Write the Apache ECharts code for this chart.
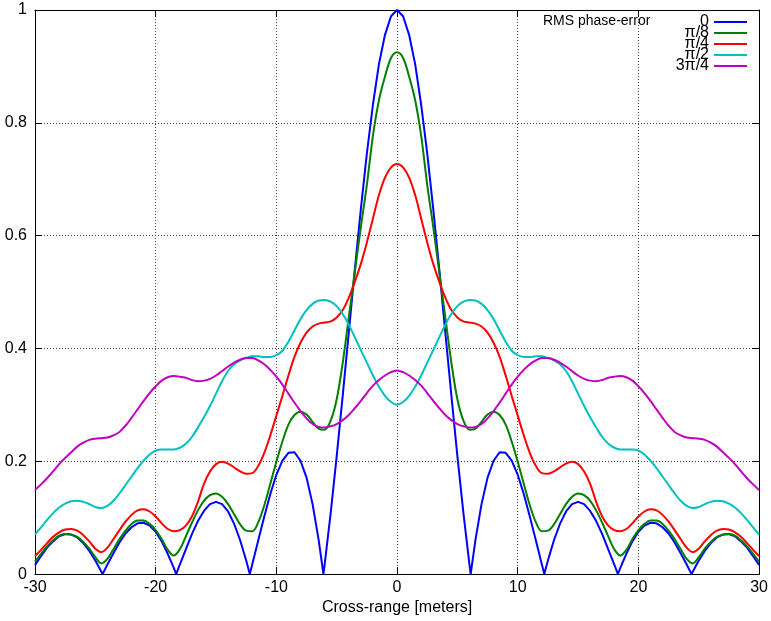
<!DOCTYPE html>
<html>
<head>
<meta charset="utf-8">
<script src="https://cdn.jsdelivr.net/npm/echarts@6/dist/echarts.min.js"></script>
<style>html,body{margin:0;padding:0;background:#fff}#c{width:771px;height:621px}</style>
</head>
<body>
<div id="c"></div>
<script>
// Sample positions (meters)
const X = [-30,-29.5,-29,-28.5,-28,-27.5,-27,-26.5,-26,-25.5,-25,-24.5,-24,-23.5,-23,-22.5,-22,-21.5,-21,-20.5,-20,-19.5,-19,-18.5,-18,-17.5,-17,-16.5,-16,-15.5,-15,-14.5,-14,-13.5,-13,-12.5,-12,-11.5,-11,-10.5,-10,-9.5,-9,-8.5,-8,-7.5,-7,-6.5,-6,-5.5,-5,-4.5,-4,-3.5,-3,-2.5,-2,-1.5,-1,-0.5,0,0.5,1,1.5,2,2.5,3,3.5,4,4.5,5,5.5,6,6.5,7,7.5,8,8.5,9,9.5,10,10.5,11,11.5,12,12.5,13,13.5,14,14.5,15,15.5,16,16.5,17,17.5,18,18.5,19,19.5,20,20.5,21,21.5,22,22.5,23,23.5,24,24.5,25,25.5,26,26.5,27,27.5,28,28.5,29,29.5,30];

// RMS phase-error 0 (has its own sample positions, including the nulls)
const X0 = [-30,-29.5,-29,-28.5,-28,-27.5,-27,-26.5,-26,-25.5,-25,-24.5,-24.4,-24,-23.5,-23,-22.5,-22,-21.5,-21,-20.5,-20,-19.5,-19,-18.5,-18.3,-18,-17.5,-17,-16.5,-16,-15.5,-15,-14.5,-14,-13.5,-13,-12.5,-12.2,-12,-11.5,-11,-10.5,-10,-9.5,-9,-8.5,-8,-7.5,-7,-6.5,-6.1,-6,-5.5,-5,-4.5,-4,-3.5,-3,-2.5,-2,-1.5,-1,-0.5,
0,0.5,1,1.5,2,2.5,3,3.5,4,4.5,5,5.5,6,6.1,6.5,7,7.5,8,8.5,9,9.5,10,10.5,11,11.5,12,12.2,12.5,13,13.5,14,14.5,15,15.5,16,16.5,17,17.5,18,18.3,18.5,19,19.5,20,20.5,21,21.5,22,22.5,23,23.5,24,24.4,24.5,25,25.5,26,26.5,27,27.5,28,28.5,29,29.5,30];
const Y0 = [0.016,0.032,0.047,0.058,0.067,0.071,0.070,0.065,0.055,0.041,0.024,0.004,0,0.017,0.037,0.056,0.072,0.083,0.090,0.091,0.086,0.075,0.058,0.036,0.011,0,0.017,0.044,0.071,0.094,0.112,0.124,0.128,0.124,0.111,0.089,0.060,0.024,0,0.017,0.060,0.102,0.142,0.176,0.201,0.215,0.216,0.201,0.171,0.124,0.061,0,0.017,0.108,0.209,0.317,0.428,0.540,0.647,0.746,0.832,0.904,0.956,0.989,
1,0.989,0.956,0.904,0.832,0.746,0.647,0.540,0.428,0.317,0.209,0.108,0.017,0,0.061,0.124,0.171,0.201,0.216,0.215,0.201,0.176,0.142,0.102,0.060,0.017,0,0.024,0.060,0.089,0.111,0.124,0.128,0.124,0.112,0.094,0.071,0.044,0.017,0,0.011,0.036,0.058,0.075,0.086,0.091,0.090,0.083,0.072,0.056,0.037,0.017,0,0.004,0.024,0.041,0.055,0.065,0.070,0.071,0.067,0.058,0.047,0.032,0.016];

// RMS phase-error pi/8
const Y1 = [0.022,0.036,0.049,0.06,0.068,0.071,0.07,0.066,0.057,0.045,0.03,0.019,0.027,0.044,0.062,0.077,0.089,0.095,0.095,0.089,0.078,0.062,0.043,0.033,0.044,0.067,0.091,0.113,0.13,0.14,0.143,0.137,0.124,0.106,0.088,0.077,0.076,0.092,0.122,0.16,0.199,0.235,0.265,0.282,0.288,0.283,0.27,0.258,0.256,0.272,0.31,0.375,0.455,0.535,0.615,0.69,0.777,0.84,0.882,0.915,
0.925,
0.915,0.882,0.84,0.777,0.69,0.615,0.535,0.455,0.375,0.31,0.272,0.256,0.258,0.27,0.283,0.288,0.282,0.265,0.235,0.199,0.16,0.122,0.092,0.076,0.077,0.088,0.106,0.124,0.137,0.143,0.14,0.13,0.113,0.091,0.067,0.044,0.033,0.043,0.062,0.078,0.089,0.095,0.095,0.089,0.077,0.062,0.044,0.027,0.019,0.03,0.045,0.057,0.066,0.07,0.071,0.068,0.06,0.049,0.036,0.022];

// RMS phase-error pi/4
const Y2 = [0.032,0.043,0.055,0.066,0.074,0.079,0.08,0.077,0.069,0.058,0.045,0.039,0.047,0.062,0.078,0.093,0.105,0.113,0.115,0.111,0.102,0.09,0.08,0.076,0.078,0.086,0.102,0.128,0.16,0.182,0.195,0.199,0.196,0.189,0.182,0.178,0.179,0.192,0.215,0.246,0.281,0.316,0.352,0.385,0.41,0.428,0.439,0.444,0.446,0.448,0.455,0.468,0.49,0.518,0.55,0.588,0.63,0.672,0.703,0.721,
0.727,
0.721,0.703,0.672,0.63,0.588,0.55,0.518,0.49,0.468,0.455,0.448,0.446,0.444,0.439,0.428,0.41,0.385,0.352,0.316,0.281,0.246,0.215,0.192,0.179,0.178,0.182,0.189,0.196,0.199,0.195,0.182,0.16,0.128,0.102,0.086,0.078,0.076,0.08,0.09,0.102,0.111,0.115,0.113,0.105,0.093,0.078,0.062,0.047,0.039,0.045,0.058,0.069,0.077,0.08,0.079,0.074,0.066,0.055,0.043,0.032];

// RMS phase-error pi/2
const Y3 = [0.070,0.083,0.096,0.108,0.118,0.125,0.129,0.13,0.128,0.124,0.119,0.117,0.121,0.13,0.143,0.158,0.173,0.188,0.201,0.212,0.219,0.221,0.221,0.221,0.224,0.231,0.243,0.26,0.278,0.298,0.32,0.342,0.36,0.372,0.379,0.383,0.386,0.386,0.385,0.385,0.388,0.396,0.412,0.432,0.452,0.468,0.479,0.485,0.486,0.483,0.475,0.461,0.442,0.42,0.397,0.375,0.352,0.332,0.316,0.305,
0.30,
0.305,0.316,0.332,0.352,0.375,0.397,0.42,0.442,0.461,0.475,0.483,0.486,0.485,0.479,0.468,0.452,0.432,0.412,0.396,0.388,0.385,0.385,0.386,0.386,0.383,0.379,0.372,0.36,0.342,0.32,0.298,0.278,0.26,0.243,0.231,0.224,0.221,0.221,0.221,0.219,0.212,0.201,0.188,0.173,0.158,0.143,0.13,0.121,0.117,0.119,0.124,0.128,0.13,0.129,0.125,0.118,0.108,0.096,0.083,0.070];

// RMS phase-error 3pi/4
const Y4 = [0.149,0.159,0.17,0.182,0.195,0.206,0.216,0.226,0.233,0.238,0.24,0.241,0.242,0.246,0.252,0.263,0.277,0.292,0.307,0.321,0.333,0.343,0.349,0.351,0.35,0.348,0.344,0.342,0.343,0.346,0.352,0.36,0.368,0.375,0.38,0.383,0.383,0.379,0.372,0.362,0.35,0.336,0.32,0.304,0.289,0.276,0.266,0.261,0.26,0.262,0.266,0.273,0.282,0.294,0.307,0.321,0.334,0.344,0.352,0.358,
0.361,
0.358,0.352,0.344,0.334,0.321,0.307,0.294,0.282,0.273,0.266,0.262,0.26,0.261,0.266,0.276,0.289,0.304,0.32,0.336,0.35,0.362,0.372,0.379,0.383,0.383,0.38,0.375,0.368,0.36,0.352,0.346,0.343,0.342,0.344,0.348,0.35,0.351,0.349,0.343,0.333,0.321,0.307,0.292,0.277,0.263,0.252,0.246,0.242,0.241,0.24,0.238,0.233,0.226,0.216,0.206,0.195,0.182,0.17,0.159,0.149];

const NAMES = ['0', 'π/8', 'π/4', 'π/2', '3π/4'];
const COLORS = ['#0000ff', '#008000', '#ff0000', '#00c0c0', '#c000c0'];
const XTICKS = {min: -30, max: 30, step: 10};
const YTICKS = {min: 0, max: 1, step: 0.2};

const FONT = '"Liberation Sans", Arial, sans-serif';
const pairs = (xs, ys) => xs.map((x, i) => [x, ys[i]]);
const seriesData = [pairs(X0, Y0), pairs(X, Y1), pairs(X, Y2), pairs(X, Y3), pairs(X, Y4)];

const chart = echarts.init(document.getElementById('c'), null, {renderer: 'canvas'});
const axisCommon = {
  type: 'value',
  axisLine: {show: true, onZero: false, lineStyle: {color: '#000', width: 1}},
  axisTick: {show: true, inside: true, length: 7, lineStyle: {color: '#000', width: 1}},
  minorTick: {show: false}
};
chart.setOption({
  animation: false,
  backgroundColor: '#fff',
  textStyle: {fontFamily: FONT},
  title: {
    text: 'RMS phase-error', left: 543, top: 14, padding: 0,
    textStyle: {fontSize: 14, fontWeight: 'normal', color: '#000', fontFamily: FONT}
  },
  legend: {
    orient: 'vertical', right: 24, top: 14, padding: 0, align: 'right',
    icon: 'rect', itemWidth: 33, itemHeight: 2, itemGap: -5,
    textStyle: {fontSize: 16, color: '#000', fontFamily: FONT},
    data: NAMES
  },
  grid: {left: 35, right: 11, top: 10, bottom: 41, containLabel: false},
  xAxis: [
    Object.assign({}, axisCommon, {
      position: 'bottom', min: XTICKS.min, max: XTICKS.max, interval: XTICKS.step,
      axisLabel: {color: '#000', fontSize: 16, margin: 5, fontFamily: FONT},
      splitLine: {show: true, lineStyle: {type: [1, 2], color: '#444', width: 1}},
      name: 'Cross-range [meters]', nameLocation: 'middle', nameGap: 19,
      nameTextStyle: {color: '#000', fontSize: 16, fontFamily: FONT}
    }),
    Object.assign({}, axisCommon, {
      position: 'top', min: XTICKS.min, max: XTICKS.max, interval: XTICKS.step,
      axisLabel: {show: false}, splitLine: {show: false}
    })
  ],
  yAxis: [
    Object.assign({}, axisCommon, {
      position: 'left', min: YTICKS.min, max: YTICKS.max, interval: YTICKS.step,
      axisLabel: {color: '#000', fontSize: 16, margin: 8, fontFamily: FONT},
      splitLine: {show: true, lineStyle: {type: [1, 2], color: '#444', width: 1}}
    }),
    Object.assign({}, axisCommon, {
      position: 'right', min: YTICKS.min, max: YTICKS.max, interval: YTICKS.step,
      axisLabel: {show: false}, splitLine: {show: false}
    })
  ],
  series: NAMES.map((n, i) => ({
    name: n, type: 'line', data: seriesData[i],
    xAxisIndex: 0, yAxisIndex: 0,
    showSymbol: false, symbol: 'none',
    smooth: i === 0 ? false : 0.35,
    lineStyle: {color: COLORS[i], width: 2},
    itemStyle: {color: COLORS[i]},
    z: 2 + i
  }))
});
</script>
</body>
</html>
